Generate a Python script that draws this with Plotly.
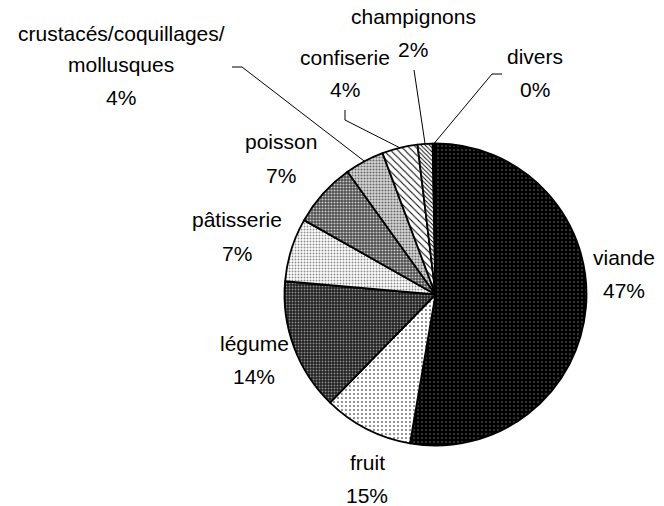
import math
import plotly.graph_objects as go

# ---- data ----
categories = ["viande", "fruit", "légume", "pâtisserie", "poisson",
              "crustacés/coquillages/mollusques", "confiserie", "champignons", "divers"]
# slice sizes as drawn (angular share, %)
values = [52.7, 9.6, 14.1, 6.8, 6.9, 4.2, 3.8, 1.6, 0.3]
# percentages printed on the labels
shown_percent = ["47%", "15%", "14%", "7%", "7%", "4%", "4%", "2%", "0%"]

# ---- layout / style ----
OFF = 0
W, H = 664, 506
cx, cy, R = 435.5, 294.5, 151   # screen px
FONT = "Liberation Sans, Arial, sans-serif"
FS = 21
PITCH = 31

label_lines = {"crustacés/coquillages/mollusques": ["crustacés/coquillages/", "mollusques"]}
# centre of percent line (screen px)
label_pos = [(624, 290.5), (367, 495), (254, 376), (237, 253), (281, 175),
             (121, 97.5), (345, 90), (413, 49), (535, 89.5)]
# leader line elbow points (label side), screen px
leaders = {5: [(232, 67), (242, 67)], 6: [(345, 110), (345, 120)],
           7: [(414, 70)], 8: [(502, 74), (492, 74)]}

bg = ["#000000", "#ffffff", "#1e1e1e", "#ffffff", "#4a4a4a", "#d8d8d8", "#ffffff", "#ffffff", "#000000"]
fg = ["#7a7a7a", "#000000", "#8a8a8a", "#8f8f8f", "#c8c8c8", "#6a6a6a", "#000000", "#000000", "#000000"]
shapes_p = [".", ".", ".", ".", ".", ".", "\\", "\\", ""]
psize = [4, 4, 3, 3, 3, 3, 5, 3, 4]
psol = [0.12, 0.12, 0.35, 0.35, 0.4, 0.4, 0.2, 0.3, 0.3]


def px2paper(x, y):
    return (x - OFF) / W, 1 - (y - OFF) / H


d_x0, d_y1 = px2paper(cx - R, cy - R)
d_x1, d_y0 = px2paper(cx + R, cy + R)

fig = go.Figure(go.Pie(
    values=values, labels=categories, sort=False, direction="clockwise", rotation=0,
    textinfo="none", hoverinfo="label+percent", showlegend=False,
    domain=dict(x=[d_x0, d_x1], y=[d_y0, d_y1]),
    marker=dict(colors=bg, line=dict(color="black", width=1.8),
                pattern=dict(shape=shapes_p, fgcolor=fg, bgcolor=bg, size=psize,
                             solidity=psol, fillmode="replace")),
))

annotations = []
shapes = []
total = sum(values)
cum = 0.0
for i, cat in enumerate(categories):
    mid = (cum + values[i] / 2) / total * 2 * math.pi
    cum += values[i]
    lines = label_lines.get(cat, [cat]) + [shown_percent[i]]
    lx, ly = label_pos[i]
    n = len(lines)
    for k, txt in enumerate(lines):
        yy = ly - PITCH * (n - 1 - k)
        if k < n - 1:
            yy -= 2
        px, py = px2paper(lx, yy)
        annotations.append(dict(x=px, y=py, xref="paper", yref="paper", text=txt,
                                showarrow=False, xanchor="center", yanchor="middle",
                                font=dict(family=FONT, size=FS, color="black")))
    if i in leaders:
        pts = leaders[i] + [(cx + R * math.sin(mid), cy - R * math.cos(mid))]
        for (x0, y0), (x1, y1) in zip(pts[:-1], pts[1:]):
            a0, b0 = px2paper(x0, y0)
            a1, b1 = px2paper(x1, y1)
            shapes.append(dict(type="line", xref="paper", yref="paper", x0=a0, y0=b0,
                               x1=a1, y1=b1, line=dict(color="black", width=1)))

fig.update_layout(width=W, height=H, autosize=False, margin=dict(l=0, r=0, t=0, b=0),
                  paper_bgcolor="white", plot_bgcolor="white",
                  annotations=annotations, shapes=shapes)
fig.write_html("out.html", config={"displayModeBar": False},
               post_script="document.body.style.margin='0';document.body.style.overflow='hidden';")
